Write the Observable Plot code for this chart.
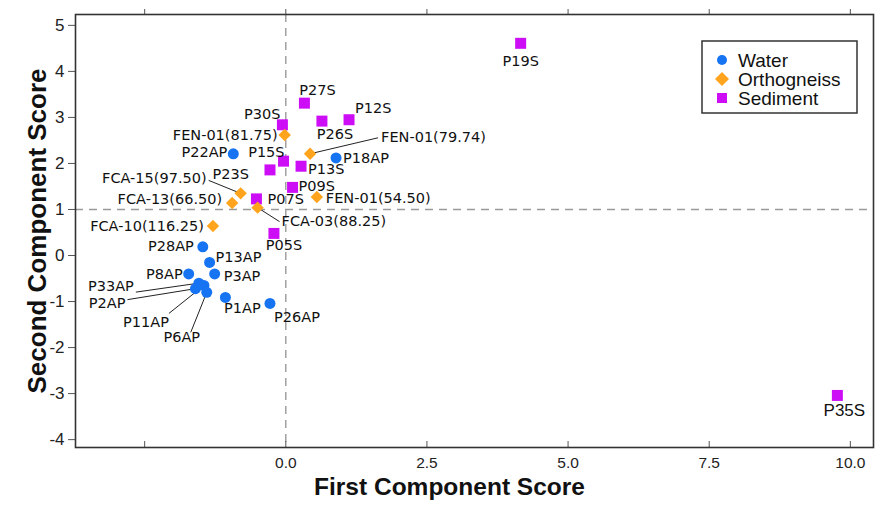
<!DOCTYPE html>
<html><head><meta charset="utf-8">
<script src="https://cdn.jsdelivr.net/npm/d3@7"></script>
<script src="https://cdn.jsdelivr.net/npm/@observablehq/plot@0.6"></script>
<style>body{margin:0;background:#fff}#chart{width:877px;height:505px}</style>
</head><body><div id="chart"></div>
<script>
// ---- data ----
const groups = ["Water", "Orthogneiss", "Sediment"];
const groupColors = ["#1673f2", "#ffa41c", "#cc0df5"];
const groupSymbols = ["circle", "diamond2", "square"];

const waterNames = ["P22AP","P18AP","P28AP","P13AP","P3AP","P8AP","P33AP","P2AP","P11AP","P6AP","P1AP","P26AP"];
const waterX = [-0.93, 0.89, -1.47, -1.35, -1.26, -1.72, -1.54, -1.60, -1.45, -1.40, -1.07, -0.28];
const waterY = [2.21, 2.12, 0.19, -0.15, -0.40, -0.40, -0.60, -0.72, -0.65, -0.80, -0.91, -1.04];

const orthoNames = ["FEN-01(81.75)","FEN-01(79.74)","FCA-15(97.50)","FEN-01(54.50)","FCA-13(66.50)","FCA-03(88.25)","FCA-10(116.25)"];
const orthoX = [-0.02, 0.43, -0.80, 0.55, -0.95, -0.50, -1.29];
const orthoY = [2.62, 2.21, 1.35, 1.27, 1.14, 1.04, 0.64];

const sedNames = ["P19S","P35S","P27S","P12S","P26S","P30S","P15S","P13S","P23S","P09S","P07S","P05S"];
const sedX = [4.16, 9.77, 0.33, 1.12, 0.64, -0.06, -0.04, 0.27, -0.28, 0.12, -0.52, -0.21];
const sedY = [4.61, -3.04, 3.31, 2.95, 2.92, 2.84, 2.05, 1.94, 1.86, 1.48, 1.23, 0.48];

const xTicks = [-2.5, 0, 2.5, 5, 7.5, 10];
const yTicks = [-4, -3, -2, -1, 0, 1, 2, 3, 4, 5];
const xTitle = "First Component Score";
const yTitle = "Second Component Score";
const refX = 0, refY = 1;

// ---- label placement (pixel offsets from the marker: dx, dy, anchor) ----
const labelPlacement = {
  "P19S":[0,18,"middle"], "P35S":[7,15,"middle"], "P27S":[13,-13,"middle"], "P12S":[6,-11,"start"],
  "P30S":[-2,-10,"end"], "P26S":[13,13,"middle"], "P15S":[1,-9,"end"], "P13S":[7,3,"start"],
  "P23S":[-21,4,"end"], "P09S":[6,-1,"start"], "P07S":[11,0,"start"], "P05S":[10,12,"middle"],
  "FEN-01(81.75)":[-7,0,"end"], "FEN-01(79.74)":[71,-16,"start"], "FCA-15(97.50)":[-34,-15,"end"],
  "FEN-01(54.50)":[9,1,"start"], "FCA-13(66.50)":[-10,-4,"end"], "FCA-03(88.25)":[24,14,"start"],
  "FCA-10(116.25)":[-9,0,"end"],
  "P22AP":[-6,-1,"end"], "P18AP":[7,0,"start"], "P28AP":[-9,0,"end"], "P13AP":[6,-5,"start"],
  "P3AP":[9,2,"start"], "P8AP":[-6,0,"end"], "P33AP":[-65,3,"end"], "P2AP":[-70,15,"end"],
  "P11AP":[-58,37,"middle"], "P6AP":[-25,45,"middle"], "P1AP":[17,11,"middle"], "P26AP":[27,14,"middle"]
};
const leaderEnds = {
  "FEN-01(79.74)":[68,-16], "FCA-15(97.50)":[-32,-13], "FCA-03(88.25)":[22,14],
  "P33AP":[-63,9], "P2AP":[-68,11], "P11AP":[-35,28], "P6AP":[-16,40]
};
const arialLabels = ["P35S"];

// ---- build rows ----
const series = [
  {g: "Water", names: waterNames, xs: waterX, ys: waterY},
  {g: "Orthogneiss", names: orthoNames, xs: orthoX, ys: orthoY},
  {g: "Sediment", names: sedNames, xs: sedX, ys: sedY}
];
const points = series.flatMap(s => s.names.map((n, i) => ({group: s.g, name: n, x: s.xs[i], y: s.ys[i]})));

// ---- layout ----
const W = 877, H = 505, mL = 75, mR = 4, mT = 14, mB = 58;
const plotH = H - mT - mB;
const xDomain = [-3.725, 10.41], yDomain = [-4.171, 5.236];
const xs = Plot.scale({x: {domain: xDomain, range: [mL, W - mR]}});
const ys = Plot.scale({y: {domain: yDomain, range: [H - mB, mT]}});

const leaderRows = points.filter(p => leaderEnds[p.name]).map(p => {
  const [ox, oy] = leaderEnds[p.name];
  return {x1: p.x, y1: p.y, x2: xs.invert(xs.apply(p.x) + ox), y2: ys.invert(ys.apply(p.y) + oy)};
});

const dotSize = {circle: 5.5, diamond2: 5.6, square: 6.2};
const drawOrder = ["Sediment", "Water", "Orthogneiss"];
const dotMarks = drawOrder.map(g => {
  const i = groups.indexOf(g);
  return Plot.dot(points.filter(p => p.group === g), {
    x: "x", y: "y", symbol: groupSymbols[i], fill: groupColors[i], r: dotSize[groupSymbols[i]]
  });
});

const labelMarks = points.map(p => {
  const [dx, dy, anchor] = labelPlacement[p.name];
  const arial = arialLabels.includes(p.name);
  return Plot.text([p], {
    x: "x", y: "y", text: "name", dx, dy, textAnchor: anchor, lineAnchor: "middle",
    fontFamily: arial ? "Liberation Sans, Arial, sans-serif" : "DejaVu Sans, Verdana, sans-serif",
    fontSize: arial ? 17 : 14.5, fill: "#111"
  });
});

const chart = Plot.plot({
  width: W, height: H,
  marginLeft: mL, marginRight: mR, marginTop: mT, marginBottom: mB,
  x: {domain: xDomain},
  y: {domain: yDomain},
  style: {fontFamily: "Liberation Sans, Arial, sans-serif", background: "#fff", color: "#222"},
  marks: [
    Plot.ruleX([refX], {stroke: "#9a9a9a", strokeWidth: 1.4, strokeDasharray: "8,6"}),
    Plot.ruleY([refY], {stroke: "#9a9a9a", strokeWidth: 1.4, strokeDasharray: "8,6"}),
    Plot.link(leaderRows, {x1: "x1", y1: "y1", x2: "x2", y2: "y2", stroke: "#222", strokeWidth: 1}),
    ...dotMarks,
    ...labelMarks,
    Plot.axisY({ticks: yTicks, tickSize: 7, tickPadding: 4, tickFormat: d => String(d), fontSize: 17, label: null, stroke: "#555"}),
    Plot.axisX({ticks: xTicks, tickSize: 0, tickPadding: 9, tickFormat: d => d < 0 ? "" : d.toFixed(1), fontSize: 15.5, label: null}),
    Plot.tickX(xTicks, {x: d => d, insetTop: plotH - 6, stroke: "#555"}),
    Plot.tickX(xTicks, {x: d => d, insetTop: -5, insetBottom: plotH, stroke: "#555"}),
    Plot.frame({stroke: "#333", strokeWidth: 1.6}),
    Plot.text([xTitle], {frameAnchor: "bottom", dx: -25, dy: 40, textAnchor: "middle", lineAnchor: "middle", fontSize: 24.5, fontWeight: "bold", fill: "#111"}),
    Plot.text([yTitle], {frameAnchor: "left", dx: -38, rotate: -90, textAnchor: "middle", lineAnchor: "middle", fontSize: 26, fontWeight: "bold", fill: "#111"})
  ]
});
document.getElementById("chart").appendChild(chart);

// ---- legend (inside plot, top right) ----
const svg = d3.select(chart);
const lg = svg.append("g").attr("transform", "translate(702,41)");
lg.append("rect").attr("width", 155).attr("height", 72).attr("fill", "#fff").attr("stroke", "#333").attr("stroke-width", 1.5);
const shapePath = {
  circle: "M5,0A5,5 0 1,1 -5,0A5,5 0 1,1 5,0Z",
  diamond2: "M0,-7L7,0L0,7L-7,0Z",
  square: "M-5,-5H5V5H-5Z"
};
groups.forEach((g, i) => {
  const row = lg.append("g").attr("transform", `translate(20,${19 + i * 19})`);
  row.append("path").attr("d", shapePath[groupSymbols[i]]).attr("fill", groupColors[i]);
  row.append("text").attr("x", 16).attr("dy", "0.35em").attr("font-size", 19)
    .attr("text-anchor", "start")
    .attr("font-family", "Liberation Sans, Arial, sans-serif").attr("fill", "#111").text(g);
});
</script>
</body></html>
